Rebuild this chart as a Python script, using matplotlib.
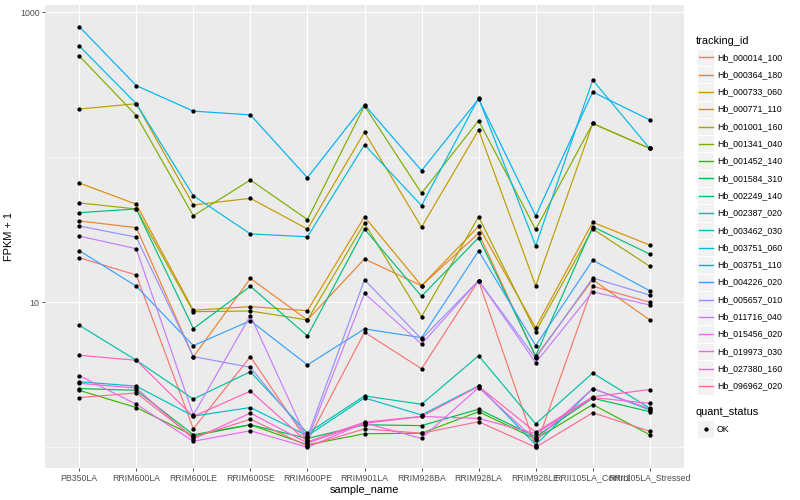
import matplotlib
matplotlib.use("Agg")
import matplotlib.pyplot as plt
from matplotlib.patches import Rectangle
from matplotlib.ticker import FixedLocator, NullFormatter

plt.rcParams['font.family'] = ['Liberation Sans', 'DejaVu Sans']

# data (FPKM + 1)
samples = ["PB350LA", "RRIM600LA", "RRIM600LE", "RRIM600SE", "RRIM600PE", "RRIM901LA",
           "RRIM928BA", "RRIM928LA", "RRIM928LE", "RRII105LA_Control", "RRII105LA_Stressed"]

tracking_ids = ["Hb_000014_100", "Hb_000364_180", "Hb_000733_060", "Hb_000771_110",
                "Hb_001001_160", "Hb_001341_040", "Hb_001452_140", "Hb_001584_310",
                "Hb_002249_140", "Hb_002387_020", "Hb_003462_030", "Hb_003751_060",
                "Hb_003751_110", "Hb_004226_020", "Hb_005657_010", "Hb_011716_040",
                "Hb_015456_020", "Hb_019973_030", "Hb_027380_160", "Hb_096962_020"]

hb_000014_100 = [20.3, 15.4, 1.34, 4.22, 1.10, 6.21, 3.48, 14.1, 1.0, 12.9, 10.0]
hb_000364_180 = [36.4, 32.7, 4.20, 14.6, 7.55, 19.9, 13.0, 29.9, 4.20, 14.3, 7.55]
hb_000733_060 = [66.5, 47.4, 8.81, 9.33, 8.75, 38.9, 13.0, 33.4, 6.68, 35.6, 24.8]
hb_000771_110 = [215, 234, 46.9, 52.1, 32.0, 149, 33.0, 154, 13.0, 171, 115]
hb_001001_160 = [48.4, 44.0, 8.61, 8.71, 7.55, 35.1, 7.96, 38.9, 6.27, 32.0, 17.7]
hb_001341_040 = [500, 194, 39.5, 69.7, 37.2, 226, 56.5, 179, 31.8, 171, 115]
hb_001452_140 = [2.47, 1.88, 1.20, 1.43, 1.04, 1.24, 1.25, 1.76, 1.14, 1.97, 1.22]
hb_001584_310 = [2.54, 2.47, 1.22, 1.43, 1.15, 1.43, 1.41, 1.83, 1.18, 2.18, 1.76]
hb_002249_140 = [41.5, 44.0, 6.58, 12.9, 5.86, 32.0, 11.0, 27.9, 4.27, 33.2, 21.5]
hb_002387_020 = [6.94, 3.98, 2.15, 3.32, 1.25, 2.26, 1.98, 4.28, 1.45, 3.25, 1.86]
hb_003462_030 = [2.83, 2.64, 1.64, 1.88, 1.20, 2.19, 1.67, 2.65, 1.04, 2.54, 1.81]
hb_003751_060 = [586, 234, 54.3, 29.6, 28.3, 122, 46.4, 256, 24.5, 341, 115]
hb_003751_110 = [796, 312, 208, 196, 72.3, 230, 80.9, 252, 39.4, 282, 181]
hb_004226_020 = [22.7, 12.9, 5.02, 7.46, 3.70, 6.55, 5.70, 22.6, 5.02, 19.5, 12.0]
hb_005657_010 = [33.6, 28.1, 4.22, 3.56, 1.18, 14.3, 5.58, 14.1, 4.11, 14.7, 11.2]
hb_011716_040 = [28.6, 23.4, 1.67, 8.09, 1.12, 11.5, 5.15, 14.1, 3.83, 11.8, 9.57]
hb_015456_020 = [3.12, 1.98, 1.10, 1.30, 1.0, 1.47, 1.15, 2.58, 1.12, 2.54, 1.84]
hb_019973_030 = [2.76, 2.56, 1.14, 1.72, 1.07, 1.46, 1.63, 1.58, 1.24, 2.20, 2.01]
hb_027380_160 = [4.31, 3.98, 1.63, 2.44, 1.09, 1.49, 1.63, 2.63, 1.27, 2.23, 2.50]
hb_096962_020 = [2.20, 2.37, 1.17, 1.56, 1.02, 1.34, 1.25, 1.50, 1.0, 1.73, 1.29]

series = [hb_000014_100, hb_000364_180, hb_000733_060, hb_000771_110, hb_001001_160,
          hb_001341_040, hb_001452_140, hb_001584_310, hb_002249_140, hb_002387_020,
          hb_003462_030, hb_003751_060, hb_003751_110, hb_004226_020, hb_005657_010,
          hb_011716_040, hb_015456_020, hb_019973_030, hb_027380_160, hb_096962_020]

# ggplot default hue palette for 20 groups
palette = ["#F8766D", "#EA8331", "#D89000", "#C09B00", "#A3A500", "#7CAE00", "#39B600",
           "#00BB4E", "#00BF7D", "#00C1A3", "#00BFC4", "#00BAE0", "#00B0F6", "#35A2FF",
           "#9590FF", "#C77CFF", "#E76BF3", "#FA62DB", "#FF62BC", "#FF6C91"]

fig = plt.figure(figsize=(8, 5), dpi=100)
ax = fig.add_axes([45/800, 32/500, 639/800, 463/500])
ax.set_facecolor("#EBEBEB")

xs = list(range(len(samples)))
for vals, col in zip(series, palette):
    ax.plot(xs, vals, color=col, lw=0.85, zorder=2)
for vals in series:
    ax.plot(xs, vals, 'o', color='black', ms=3.1, mec='none', zorder=3)

ax.set_yscale('log')
ax.set_ylim(10**-0.143, 10**3.05)
ax.set_xlim(-0.6, len(samples) - 0.4)
ax.set_xticks(xs)
ax.set_xticklabels(samples)
ax.yaxis.set_major_locator(FixedLocator([10, 1000]))
ax.set_yticklabels(["10", "1000"])
ax.yaxis.set_minor_locator(FixedLocator([1, 100]))
ax.yaxis.set_minor_formatter(NullFormatter())

ax.grid(True, which='major', color='white', lw=0.8)
ax.grid(True, which='minor', axis='y', color='white', lw=0.4)
ax.set_axisbelow(True)
for s in ax.spines.values():
    s.set_visible(False)
ax.tick_params(which='major', length=2.2, width=0.6, color='#333333',
               labelsize=6.3, labelcolor='#4D4D4D', pad=1.8)
ax.tick_params(which='minor', length=0)

ax.set_xlabel("sample_name", fontsize=7.9, labelpad=2)
ax.set_ylabel("FPKM + 1", fontsize=7.9, labelpad=4)

# legend drawn by hand in pixel coordinates
lax = fig.add_axes([0, 0, 1, 1])
lax.set_xlim(0, 800)
lax.set_ylim(500, 0)
lax.axis('off')

lax.text(696, 40.7, "tracking_id", fontsize=7.9, va='center', ha='left')
for i, (tid, col) in enumerate(zip(tracking_ids, palette)):
    cy = 57.3 + 17.3 * i
    lax.add_patch(Rectangle((697, cy - 8.65), 17.3, 17.3, fc='#F2F2F2', ec='white', lw=0.8))
    lax.plot([698.5, 712.8], [cy, cy], color=col, lw=1.0)
    lax.text(717, cy, tid, fontsize=6.3, va='center', ha='left')

lax.text(696, 412.3, "quant_status", fontsize=7.9, va='center', ha='left')
lax.add_patch(Rectangle((697, 429 - 8.65), 17.3, 17.3, fc='#F2F2F2', ec='white', lw=0.8))
lax.plot([705.6], [429], 'o', color='black', ms=3.1, mec='none')
lax.text(717, 429, "OK", fontsize=6.3, va='center', ha='left')

fig.savefig("out.png", dpi=100)
